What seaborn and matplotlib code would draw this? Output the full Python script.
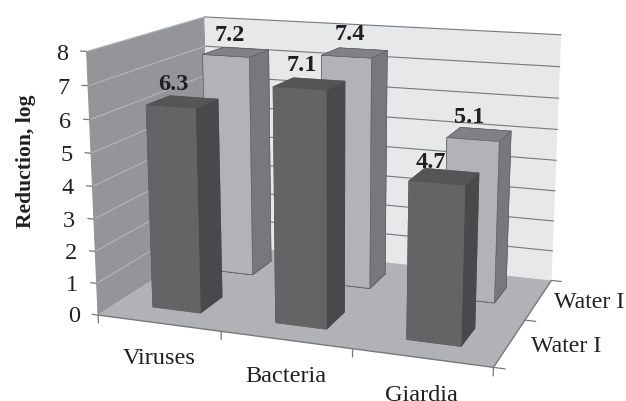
import numpy as np
import matplotlib
matplotlib.use('Agg')
import matplotlib.pyplot as plt
import seaborn as sns
from mpl_toolkits.mplot3d import proj3d
from mpl_toolkits.mplot3d.art3d import Poly3DCollection

categories = ['Viruses', 'Bacteria', 'Giardia']
series_names = ['Water I', 'Water I']
front_values = [6.3, 7.1, 4.7]
back_values = [7.2, 7.4, 5.1]
z_ticks = [0, 1, 2, 3, 4, 5, 6, 7, 8]

sns.set_theme(style='white')
plt.rcParams['font.family'] = ['Liberation Serif', 'DejaVu Serif']

# bottom, top, -y, +y, -x, +x
dark = ['#555658', '#545557', '#636466', '#636466', '#48494b', '#48494b']
light = ['#808184', '#808184', '#b2b3b6', '#b2b3b6', '#77787b', '#77787b']
bar_w = 0.40
txt = '#231f20'

fig = plt.figure(figsize=(6.26, 4.02), dpi=100, facecolor='white')
ax = fig.add_subplot(projection='3d', computed_zorder=False)
ax.set_xlim(0, 3)
ax.set_ylim(0, 2)
ax.set_zlim(0, 8)
ax.view_init(14.0, -69.98)
ax.set_proj_type('persp', focal_length=0.4873)
ax.set_box_aspect((1.5346, 1, 1.0094))
ax.set_axis_off()
ax.patch.set_alpha(0)

# square axes placed so the box corners land where the picture has them
size = 2848.35 * 0.185
ax.set_position([(333.08 - 2848.35 * 0.095) / 626,
                 (402 - 173.85 - 2848.35 * 0.095) / 402,
                 size / 626, size / 402])


def label(x, y, z, s, **kw):
    # text at a 3d spot, put down in the projected 2d coordinates
    xs, ys, _ = proj3d.proj_transform(x, y, z, ax.get_proj())
    ax.text2D(xs, ys, s, transform=ax.transData, color=txt, zorder=20, **kw)


floor = [[(0, 0, 0), (3, 0, 0), (3, 2, 0), (0, 2, 0)]]
left_wall = [[(0, 0, 0), (0, 2, 0), (0, 2, 8), (0, 0, 8)]]
back_wall = [[(0, 2, 0), (3, 2, 0), (3, 2, 8), (0, 2, 8)]]
ax.add_collection3d(Poly3DCollection(left_wall, facecolor='#939598', edgecolor='none', zorder=1))
ax.add_collection3d(Poly3DCollection(back_wall, facecolor='#e7e8ea', edgecolor='none', zorder=1))
ax.add_collection3d(Poly3DCollection(floor, facecolor='#b1b2b5', edgecolor='none', zorder=2))

# grid on the walls
for z in z_ticks[1:]:
    ax.plot([0, 0], [0, 2], [z, z], color='#b4b5b8', lw=0.8, zorder=3)
    ax.plot([0, 3], [2, 2], [z, z], color='#77787b', lw=0.8, zorder=3)
    ax.plot([-0.05, 0], [0, 0], [z, z], color='#77787b', lw=0.9, zorder=3)
ax.plot([-0.05, 0], [0, 0], [0, 0], color='#77787b', lw=0.9, zorder=3)

# floor outline and ticks
ax.plot([0, 3, 3], [0, 0, 2], [0, 0, 0], color='#77787b', lw=1.0, zorder=3)
ax.plot([0, 0], [0, 0], [0, 8], color='#939598', lw=0.8, zorder=3)
for i in range(4):
    ax.plot([i, i], [0, 0], [0, -0.25], color='#77787b', lw=0.9, zorder=3)
for j in range(3):
    ax.plot([3, 3.08], [j, j], [0, 0], color='#77787b', lw=0.9, zorder=3)

# back row first, then the front one
for i, v in enumerate(back_values):
    x0 = i + 0.5 - bar_w / 2
    ax.bar3d(x0, 1.5 - bar_w / 2, 0, bar_w, bar_w, v, color=light, shade=False,
             edgecolor='#58595b', linewidth=0.4, zorder=5 + i)
    ax.plot([x0, x0 + bar_w, x0 + bar_w], [1.5 - bar_w / 2, 1.5 - bar_w / 2, 1.5 + bar_w / 2],
            [0, 0, 0], color='#3a3a3c', lw=0.7, ls='--', zorder=4)
for i, v in enumerate(front_values):
    x0 = i + 0.5 - bar_w / 2
    ax.bar3d(x0, 0.5 - bar_w / 2, 0, bar_w, bar_w, v, color=dark, shade=False,
             edgecolor='none', zorder=10 + i)

# value labels sit a little off centre in the original
back_dx = [-0.055, -0.04, -0.08]
back_dz = [0.55, 0.6, 0.55]
front_dx = [-0.07, -0.06, -0.10]
front_dz = [0.55, 0.55, 0.40]
for i, v in enumerate(back_values):
    label(i + 0.5 + back_dx[i], 1.5, v + back_dz[i], '%.1f' % v, ha='center', va='center',
          fontsize=17.5, fontweight='bold')
for i, v in enumerate(front_values):
    label(i + 0.5 + front_dx[i], 0.5, v + front_dz[i], '%.1f' % v, ha='center', va='center',
          fontsize=17.5, fontweight='bold')

for z in z_ticks:
    label(-0.155, 0, z - 0.1, str(z), ha='right', va='center', fontsize=17.5)
for i, name in enumerate(categories):
    label(i + 0.50, 0, -1.08, name, ha='center', va='center', fontsize=17.5)
label(3.15, 0.5, 0, series_names[0], ha='left', va='center', fontsize=17.2)
label(3.12, 1.5, 0, series_names[1], ha='left', va='center', fontsize=17.2)

fig.text(26.5 / 626, 1 - 161 / 402, 'Reduction, log', rotation=90, ha='center', va='center',
         fontsize=15.6, fontweight='bold', color=txt)

fig.savefig('out.png', dpi=100)
